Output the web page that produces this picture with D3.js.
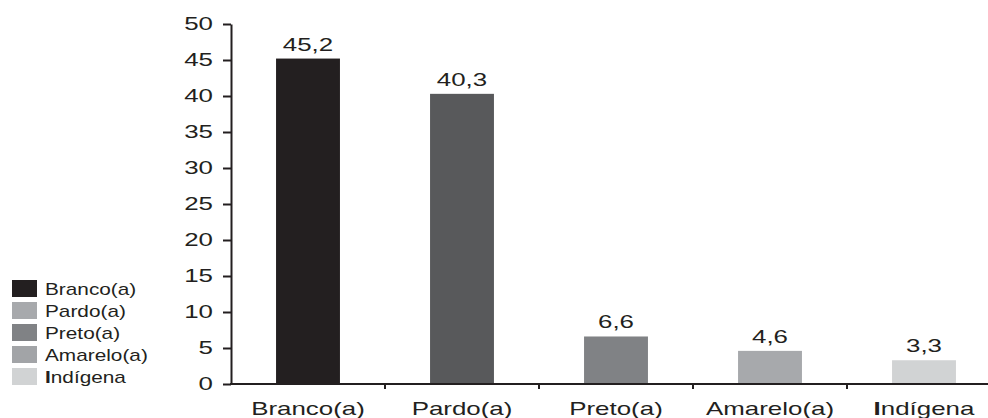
<!DOCTYPE html>
<html>
<head>
<meta charset="utf-8">
<script src="https://cdn.jsdelivr.net/npm/d3@7"></script>
<style>
  html, body { margin: 0; padding: 0; background: #fff; }
  svg { display: block; font-family: "Liberation Sans", Arial, Helvetica, sans-serif; }
</style>
</head>
<body>
<svg id="chart" width="988" height="418"></svg>
<script>
// Distribution by colour/race (%)
const categories = ["Branco(a)", "Pardo(a)", "Preto(a)", "Amarelo(a)", "Indígena"];
const values = [45.2, 40.3, 6.6, 4.6, 3.3];
const valueLabels = ["45,2", "40,3", "6,6", "4,6", "3,3"];
const barColors = ["#231f20", "#58595b", "#808285", "#a7a9ac", "#d1d3d4"];
const legendColors = ["#231f20", "#a7a9ac", "#808285", "#a2a4a7", "#d1d3d4"];
const yTicks = [0, 5, 10, 15, 20, 25, 30, 35, 40, 45, 50];

const svg = d3.select("#chart");
const x0 = 231, x1 = 1001, yTop = 24, yBottom = 384;
const ink = "#231f20";
const WIDE = 1.4; // horizontal stretch of the lettering

const x = d3.scaleBand().domain(categories).range([x0, x1]).paddingInner(0.585).paddingOuter(0.2925);
const y = d3.scaleLinear().domain([0, 50]).range([yBottom, yTop]);

// place a text at (px, py) with wide lettering
function place(sel, px, py, sx) {
  sel.attr("x", 0).attr("y", 0)
     .attr("transform", `translate(${px},${py}) scale(${sx},1)`);
}

function labelWithInitial(sel, text) {
  if (text === "Indígena") {
    sel.append("tspan").attr("font-weight", "bold").text("I");
    sel.append("tspan").text(text.slice(1));
  } else {
    sel.text(text);
  }
}

// Bars
svg.append("g").selectAll("rect")
  .data(categories)
  .join("rect")
  .attr("x", d => x(d))
  .attr("width", x.bandwidth())
  .attr("y", (d, i) => y(values[i]))
  .attr("height", (d, i) => y(0) - y(values[i]))
  .attr("fill", (d, i) => barColors[i]);

// Value labels
svg.append("g").selectAll("text")
  .data(categories)
  .join("text")
  .attr("text-anchor", "middle")
  .attr("font-size", 18.5)
  .attr("fill", ink)
  .text((d, i) => valueLabels[i])
  .each(function(d, i) {
    place(d3.select(this), x(d) + x.bandwidth() / 2, y(values[i]) - 8, WIDE);
  });

// Y axis
const yAxis = svg.append("g")
  .attr("transform", `translate(${x0},0)`)
  .call(d3.axisLeft(y).tickValues(yTicks).tickSize(8).tickSizeOuter(0));
yAxis.select(".domain").attr("stroke", ink).attr("stroke-width", 2);
yAxis.selectAll(".tick line").attr("stroke", ink).attr("stroke-width", 2);
yAxis.selectAll(".tick text")
  .attr("font-size", 18.5)
  .attr("font-family", "Liberation Sans, Arial, sans-serif")
  .attr("fill", ink)
  .attr("dy", "0.32em")
  .each(function() { place(d3.select(this), -18, 0, WIDE); });

// X axis with separators between categories
const xAxisG = svg.append("g").attr("transform", `translate(0,${yBottom})`);
xAxisG.append("line")
  .attr("x1", x0 - 1).attr("x2", 988)
  .attr("stroke", ink).attr("stroke-width", 2);
const step = x.step();
xAxisG.selectAll("line.sep")
  .data(categories.slice(1))
  .join("line")
  .attr("class", "sep")
  .attr("x1", d => x(d) - step * x.paddingInner() / 2)
  .attr("x2", d => x(d) - step * x.paddingInner() / 2)
  .attr("y1", 0).attr("y2", 5)
  .attr("stroke", ink).attr("stroke-width", 2);

// Category labels
xAxisG.selectAll("text.cat")
  .data(categories)
  .join("text")
  .attr("class", "cat")
  .attr("text-anchor", "middle")
  .attr("font-size", 18.5)
  .attr("fill", ink)
  .each(function(d) {
    const t = d3.select(this);
    labelWithInitial(t, d);
    place(t, x(d) + x.bandwidth() / 2, 31, WIDE);
  });

// Legend
const legend = svg.append("g").attr("transform", "translate(12,280)");
const item = legend.selectAll("g")
  .data(categories)
  .join("g")
  .attr("transform", (d, i) => `translate(0,${i * 22})`);
item.append("rect")
  .attr("width", 25).attr("height", 17)
  .attr("fill", (d, i) => legendColors[i]);
item.append("text")
  .attr("font-size", 16)
  .attr("fill", ink)
  .each(function(d) {
    const t = d3.select(this);
    labelWithInitial(t, d);
    place(t, 33, 15, 1.3);
  });
</script>
</body>
</html>
